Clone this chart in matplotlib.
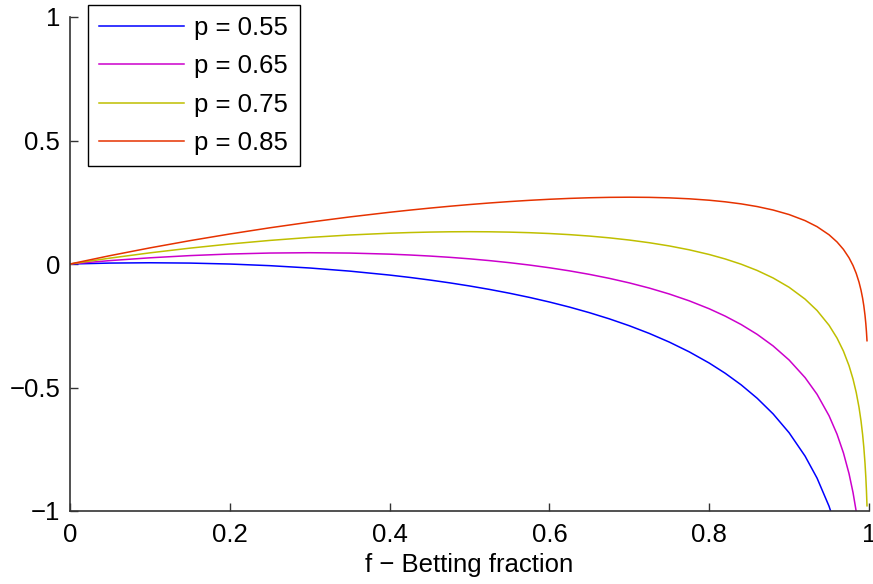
import matplotlib
matplotlib.use('Agg')
import matplotlib.pyplot as plt

plt.rcParams['font.family'] = ['Liberation Sans', 'DejaVu Sans']

# betting fraction samples
f = [0, 0.05, 0.1, 0.15, 0.2, 0.25, 0.3, 0.35, 0.4, 0.425, 0.45, 0.475, 0.5,
     0.525, 0.55, 0.575, 0.6, 0.625, 0.65, 0.675, 0.7, 0.725, 0.75, 0.775,
     0.8, 0.82, 0.84, 0.86, 0.88, 0.9, 0.92, 0.935, 0.95, 0.96, 0.968, 0.975,
     0.98, 0.984, 0.9875, 0.99, 0.992, 0.9935, 0.995, 0.996, 0.9968, 0.9975]

g_055 = [0, 0.00375, 0.00501, 0.00373, -0.00014, -0.00673, -0.01620, -0.02880,
         -0.04481, -0.05423, -0.06467, -0.07620, -0.08891, -0.10290, -0.11829,
         -0.13521, -0.15383, -0.17434, -0.19699, -0.22207, -0.24994, -0.28107,
         -0.31604, -0.35565, -0.40096, -0.44230, -0.48929, -0.54343, -0.60692,
         -0.68315, -0.77780, -0.86696, -0.98077, -1.07838, -1.17655, -1.28568,
         -1.38470, -1.48401, -1.59413, -1.69386, -1.79372, -1.88674, -2.00439,
         -2.10453, -2.20472, -2.31561]
g_065 = [0, 0.01376, 0.02508, 0.03396, 0.04041, 0.04435, 0.04570, 0.04429,
         0.03992, 0.03653, 0.03227, 0.02710, 0.02095, 0.01374, 0.00538,
         -0.00422, -0.01520, -0.02771, -0.04193, -0.05810, -0.07648, -0.09745,
         -0.12145, -0.14911, -0.18124, -0.21094, -0.24506, -0.28477, -0.33177,
         -0.38870, -0.45999, -0.52761, -0.61442, -0.68920, -0.76465, -0.84874,
         -0.92519, -1.00198, -1.08724, -1.16453, -1.24197, -1.31415, -1.40549,
         -1.48327, -1.56111, -1.64728]
g_075 = [0, 0.02377, 0.04514, 0.06419, 0.08096, 0.09544, 0.10760, 0.11738,
         0.12465, 0.12728, 0.12921, 0.13040, 0.13082, 0.13039, 0.12906,
         0.12677, 0.12343, 0.11892, 0.11313, 0.10588, 0.09698, 0.08617,
         0.07314, 0.05744, 0.03848, 0.02043, -0.00082, -0.02610, -0.05661,
         -0.09426, -0.14219, -0.18826, -0.24806, -0.30002, -0.35274, -0.41179,
         -0.46568, -0.51996, -0.58035, -0.63520, -0.69022, -0.74157, -0.80659,
         -0.86201, -0.91749, -0.97894]
g_085 = [0, 0.03378, 0.06521, 0.09442, 0.12150, 0.14652, 0.16951, 0.19047,
         0.20938, 0.21804, 0.22615, 0.23371, 0.24068, 0.24703, 0.25274,
         0.25777, 0.26206, 0.26556, 0.26819, 0.26985, 0.27044, 0.26980,
         0.26773, 0.26398, 0.25821, 0.25179, 0.24341, 0.23257, 0.21854,
         0.20018, 0.17562, 0.15109, 0.11830, 0.08917, 0.05916, 0.02515,
         -0.00617, -0.03793, -0.07346, -0.10587, -0.13848, -0.16899, -0.20770,
         -0.24075, -0.27388, -0.31060]

series = [g_055, g_065, g_075, g_085]
labels = ['p = 0.55', 'p = 0.65', 'p = 0.75', 'p = 0.85']
colors = ['#0000ff', '#cc00cc', '#bfbf00', '#e63200']

xticks = [0, 0.2, 0.4, 0.6, 0.8, 1]
xticklabels = ['0', '0.2', '0.4', '0.6', '0.8', '1']
yticks = [-1, -0.5, 0, 0.5, 1]
yticklabels = ['\u22121', '\u22120.5', '0', '0.5', '1']

fig = plt.figure(figsize=(8.73, 5.84), dpi=100)
ax = fig.add_axes([70 / 873, 73 / 584, 799 / 873, 494 / 584])

for g, lab, c in zip(series, labels, colors):
    ax.plot(f, g, color=c, lw=1.1, label=lab)

ax.set_xlim(0, 1)
ax.set_ylim(-1, 1)
ax.set_xticks(xticks)
ax.set_xticklabels(xticklabels)
ax.set_yticks(yticks)
ax.set_yticklabels(yticklabels)
ax.tick_params(direction='in', length=5.5, width=1, labelsize=18.5,
               color='#333333', pad=7)
ax.tick_params(axis='x', pad=9)
for side in ['top', 'right']:
    ax.spines[side].set_visible(False)
for side in ['left', 'bottom']:
    ax.spines[side].set_color('#333333')
    ax.spines[side].set_linewidth(1.2)

ax.set_xlabel('f \u2212 Betting fraction', fontsize=18.5, labelpad=4)

leg = fig.legend(loc='upper left', bbox_to_anchor=(88 / 873, 1 - 5 / 584),
                 fontsize=18.5, frameon=True, fancybox=False, borderaxespad=0,
                 handlelength=3.3, handletextpad=0.4, borderpad=0.44,
                 labelspacing=0.55)
leg.get_frame().set_edgecolor('black')
leg.get_frame().set_linewidth(1.0)
leg.get_frame().set_alpha(1)

fig.savefig('out.png', dpi=100)
